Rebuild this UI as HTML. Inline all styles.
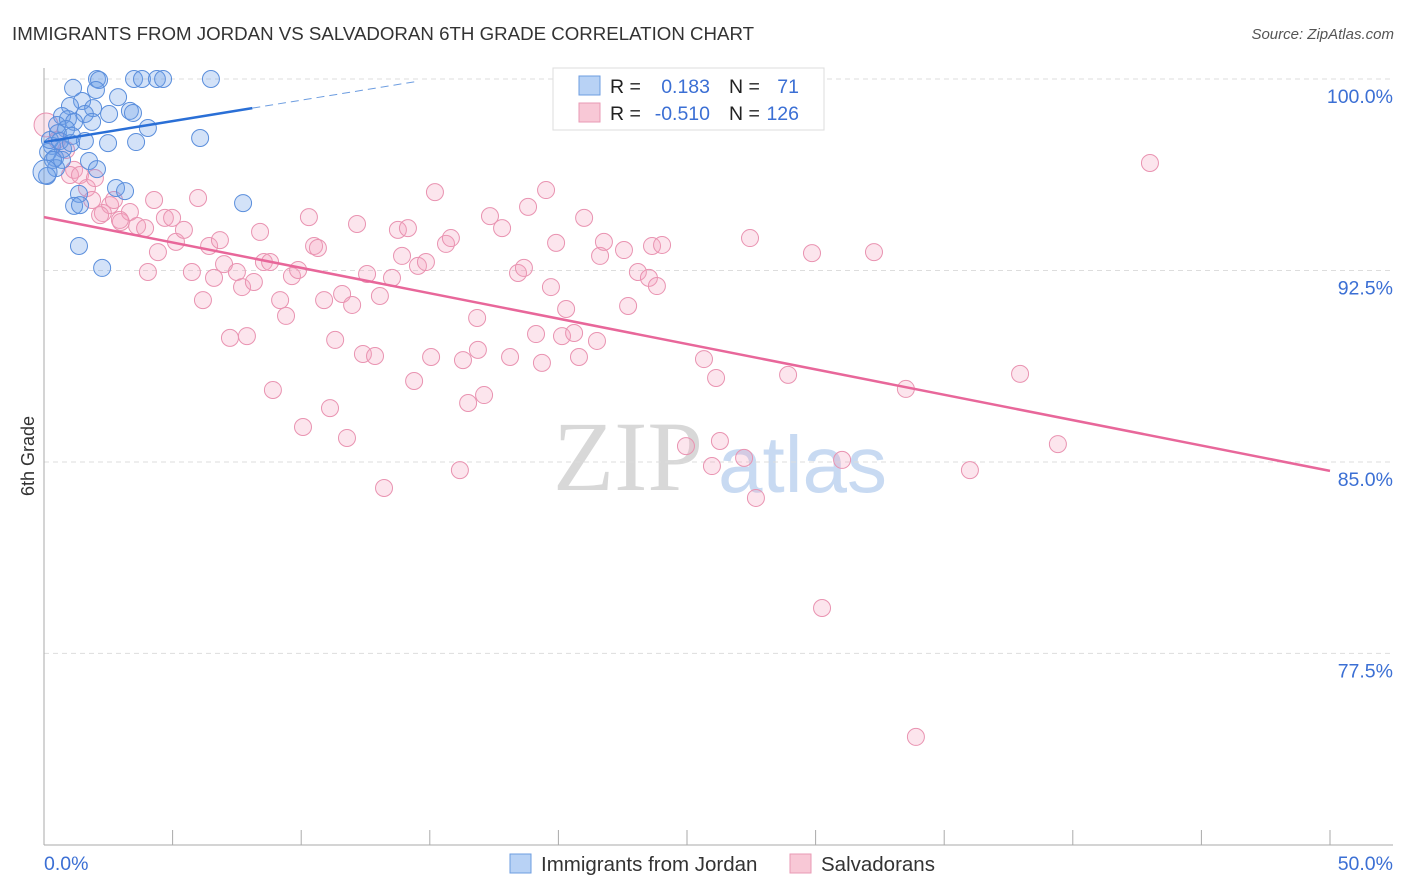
<!DOCTYPE html>
<html><head><meta charset="utf-8">
<style>
body{margin:0;background:#fff;font-family:"Liberation Sans",sans-serif;}
#wrap{position:relative;width:1406px;height:892px;overflow:hidden;}
</style></head>
<body>
<div id="wrap">
<svg id="svg" width="1406" height="892" xmlns="http://www.w3.org/2000/svg">
<text x="12" y="40" font-size="18.7" fill="#333">IMMIGRANTS FROM JORDAN VS SALVADORAN 6TH GRADE CORRELATION CHART</text>
<text x="1394" y="39" font-size="15" fill="#555" font-style="italic" text-anchor="end">Source: ZipAtlas.com</text>
<text x="34" y="456" font-size="18" fill="#333" text-anchor="middle" transform="rotate(-90 34 456)">6th Grade</text>
<g>
<text x="553" y="490" font-size="100" font-family="Liberation Serif,serif" fill="#d8d8d8">ZIP</text>
<text x="718" y="492" font-size="80" fill="#c8daf2">atlas</text>
</g>
<g id="grid"></g>
<g id="axes"></g>
<g id="pink"></g>
<g id="blue"></g>
<g id="trends"></g>
<g>
<rect x="553" y="68" width="271" height="62" fill="#fff" stroke="#ddd"/>
<rect x="579" y="76" width="21" height="19" fill="#b8d2f5" stroke="#6d9de0"/>
<rect x="579" y="103" width="21" height="19" fill="#f8c8d6" stroke="#e99ab4"/>
<text x="610" y="93" font-size="19.5" fill="#222">R =</text>
<text x="710" y="93" font-size="19.5" fill="#3b6fd4" text-anchor="end">0.183</text>
<text x="729" y="93" font-size="19.5" fill="#222">N =</text>
<text x="799" y="93" font-size="19.5" fill="#3b6fd4" text-anchor="end">71</text>
<text x="610" y="120" font-size="19.5" fill="#222">R =</text>
<text x="710" y="120" font-size="19.5" fill="#3b6fd4" text-anchor="end">-0.510</text>
<text x="729" y="120" font-size="19.5" fill="#222">N =</text>
<text x="799" y="120" font-size="19.5" fill="#3b6fd4" text-anchor="end">126</text>
</g>
<g>
<rect x="510" y="854" width="21" height="19" fill="#b8d2f5" stroke="#6d9de0"/>
<text x="541" y="871" font-size="20.5" fill="#333">Immigrants from Jordan</text>
<rect x="790" y="854" width="21" height="19" fill="#f8c8d6" stroke="#e99ab4"/>
<text x="821" y="871" font-size="20.5" fill="#333">Salvadorans</text>
</g>
</svg>
</div>
<script>
const yTicks=[100,92.5,85,77.5];
const yTickLabels=["100.0%","92.5%","85.0%","77.5%"];
const xTickCount=10;
const xLabels=["0.0%","50.0%"];
const blueX=[2.06,2.14,3.50,3.81,4.39,4.63,6.49,1.13,2.02,2.88,1.48,1.01,1.91,3.34,2.53,0.70,1.59,3.46,0.93,1.17,4.04,0.51,0.86,1.87,6.07,0.54,1.09,1.59,2.49,3.58,0.31,0.74,0.16,0.43,1.75,2.06,0.47,0.70,2.80,3.15,1.36,1.17,1.40,7.74,1.36,2.26,0.12,0.23,0.62,1.05,0.35,0.04];
const blueY=[100,99.96,100,100,100,100,100,99.65,99.57,99.29,99.14,98.94,98.86,98.75,98.63,98.55,98.63,98.67,98.43,98.32,98.08,98.20,98.04,98.32,97.69,97.88,97.77,97.57,97.49,97.53,97.38,97.26,97.14,96.91,96.79,96.47,96.51,96.83,95.73,95.61,95.50,95.03,95.06,95.14,93.46,92.60,96.20,97.61,97.57,97.49,96.83,96.36];
const pinkX=[0.08,0.51,0.86,1.17,1.01,1.40,1.67,1.87,2.29,2.57,2.72,2.99,3.34,3.62,3.93,4.04,4.28,4.43,4.70,4.98,5.13,5.44,5.75,5.99,6.18,6.42,6.61,6.84,7.00,7.23,7.50,7.70,7.89,8.16,8.40,8.55,8.79,8.90,9.18,9.41,9.64,9.88,10.07,10.30,10.50,10.65,10.89,11.12,11.32,11.59,11.78,11.98,12.17,12.40,12.56,12.87,13.06,13.22,13.53,13.76,13.92,14.15,14.39,14.54,14.85,15.05,15.20,15.63,15.82,16.17,16.29,16.49,16.84,16.87,17.11,17.34,17.81,18.12,18.43,18.66,18.82,19.13,19.36,19.52,19.71,19.91,20.14,20.30,20.61,20.80,21.00,21.50,21.62,21.77,22.55,22.71,23.09,23.52,23.64,23.83,24.03,24.96,25.66,25.97,26.13,26.28,27.22,27.45,27.68,28.93,29.86,30.25,31.03,32.27,33.51,33.90,36.00,37.95,39.42,43.00,2.95,2.18,1.98,24.8];
const pinkY=[98.20,97.61,97.22,96.44,96.24,96.24,95.73,95.26,94.75,95.06,95.26,94.40,94.79,94.24,94.16,92.44,95.26,93.22,94.56,94.56,93.62,94.09,92.44,95.34,91.34,93.46,92.21,93.69,92.75,89.86,92.44,91.85,89.93,92.05,94.01,92.83,92.83,87.82,91.34,90.72,92.28,92.52,86.37,94.59,93.46,93.38,91.34,87.11,89.78,91.58,85.94,91.15,94.32,89.23,92.36,89.15,91.50,83.98,92.21,94.09,93.07,94.16,88.17,92.68,92.83,89.11,95.57,93.54,93.77,84.68,88.99,87.31,90.64,89.39,87.62,94.63,94.16,89.11,92.40,92.60,94.99,90.01,88.88,95.65,91.85,93.58,89.93,90.99,90.05,89.11,94.56,89.74,93.07,93.62,93.30,91.11,92.44,92.21,93.46,91.89,93.50,85.62,89.03,84.84,88.29,85.82,85.16,93.77,83.59,88.41,93.18,79.28,85.08,93.22,87.86,74.23,84.68,88.45,85.70,96.71,94.48,94.67,96.12,99.84];
const blueTrend=[97.53,98.86,99.89];
const blueTrendX=[0,8.1,14.4];
const pinkTrend=[94.59,84.65];
const pinkTrendX=[0,50];

const NS="http://www.w3.org/2000/svg";
const X0=44,X1=1330;
const sx=v=>X0+(v/50)*(X1-X0);
const sy=v=>79+(100-v)*25.53;
function mk(tag,attrs,parent){const e=document.createElementNS(NS,tag);for(const k in attrs)e.setAttribute(k,attrs[k]);document.getElementById(parent).appendChild(e);return e;}

yTicks.forEach((t,i)=>{
  const l=mk('line',{x1:44,x2:1393,y1:sy(t),y2:sy(t),stroke:'#ddd','stroke-dasharray':'5,4'},'grid');
  
  
  const tx=mk('text',{x:1393,y:sy(t)+24,'font-size':19.5,fill:'#3b6fd4','text-anchor':'end'},'grid');
  tx.textContent=yTickLabels[i];
  
  
});
let ax=mk('line',{x1:44,x2:44,y1:68,y2:845,stroke:'#aaa'},'axes');


let bx=mk('line',{x1:44,x2:1393,y1:845,y2:845,stroke:'#aaa'},'axes');


for(let i=0;i<=xTickCount;i++){
  const x=sx(i*5);
  const t=mk('line',{x1:x,x2:x,y1:830,y2:845,stroke:'#aaa'},'axes');
  
  
}
let xl0=mk('text',{x:44,y:870,'font-size':19.5,fill:'#3b6fd4'},'axes');xl0.textContent=xLabels[0];


let xl1=mk('text',{x:1393,y:870,'font-size':19.5,fill:'#3b6fd4','text-anchor':'end'},'axes');xl1.textContent=xLabels[1];



pinkX.forEach((v,i)=>{
  const c=mk('circle',{cx:sx(v),cy:sy(pinkY[i]),r:i===0?12:8.5,fill:'rgba(243,160,190,0.28)',stroke:'#e993b1','stroke-width':1},'pink');
  
  
});
blueX.forEach((v,i)=>{
  const c=mk('circle',{cx:sx(v),cy:sy(blueY[i]),r:i===blueX.length-1?12:8.5,fill:'rgba(110,160,232,0.3)',stroke:'#5a8edc','stroke-width':1},'blue');
  
  
});
let bt=mk('line',{x1:sx(blueTrendX[0]),y1:sy(blueTrend[0]),x2:sx(blueTrendX[1]),y2:sy(blueTrend[1]),stroke:'#2a6fd6','stroke-width':2.5},'trends');


let bd=mk('line',{x1:sx(blueTrendX[1]),y1:sy(blueTrend[1]),x2:sx(blueTrendX[2]),y2:sy(blueTrend[2]),stroke:'#6d9de0','stroke-width':1,'stroke-dasharray':'8,5'},'trends');


let pt=mk('line',{x1:sx(pinkTrendX[0]),y1:sy(pinkTrend[0]),x2:sx(pinkTrendX[1]),y2:sy(pinkTrend[1]),stroke:'#e8679a','stroke-width':2.5},'trends');


</script>
</body></html>
